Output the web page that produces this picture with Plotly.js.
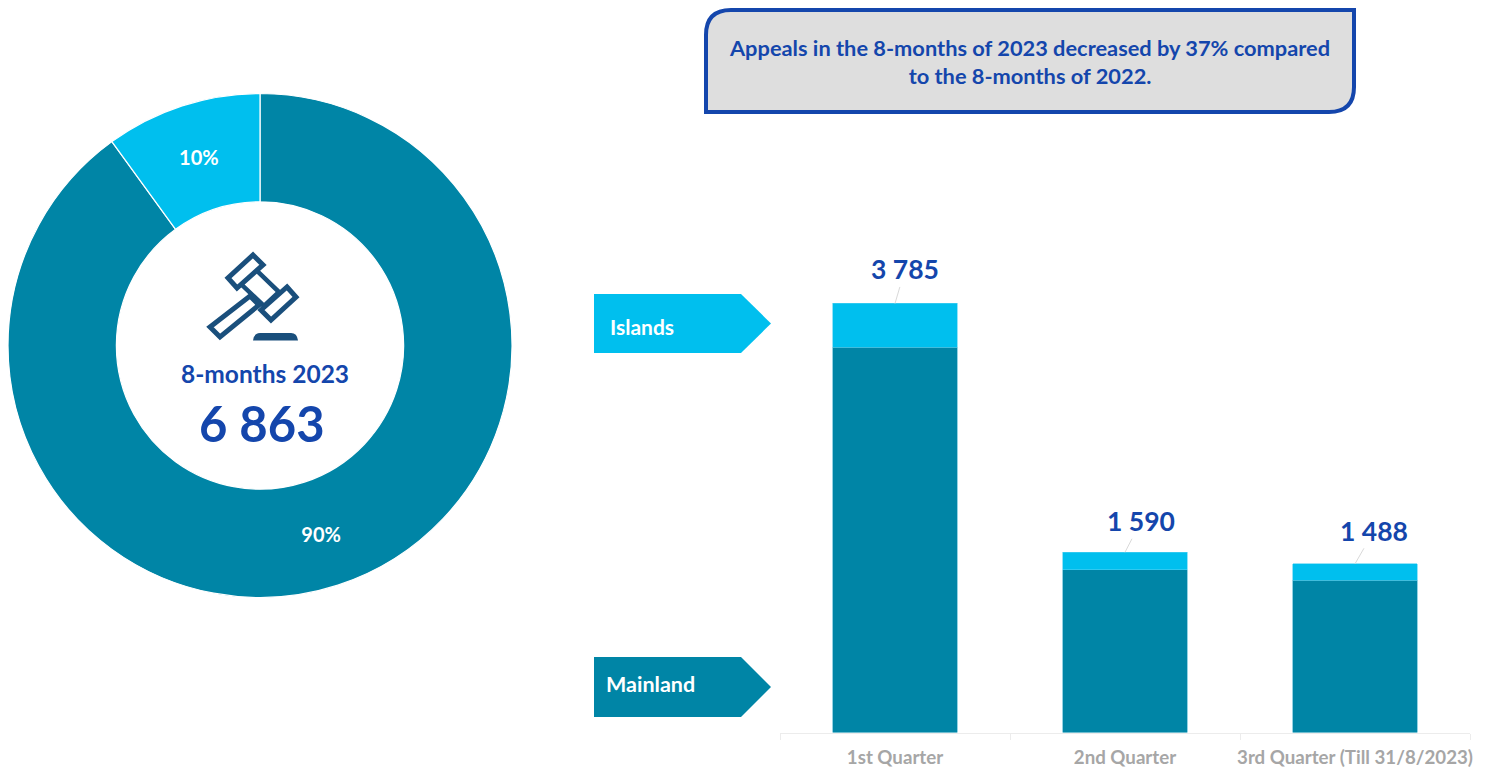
<!DOCTYPE html>
<html>
<head>
<meta charset="utf-8">
<script src="https://cdn.plot.ly/plotly-3.0.1.min.js"></script>
<style>html,body{margin:0;padding:0;background:#fff}#c{width:1491px;height:772px}</style>
</head>
<body>
<div id="c"></div>
<script>
const quarters = ["1st Quarter", "2nd Quarter", "3rd Quarter (Till 31/8/2023)"];
const mainland = [3397, 1438, 1345];
const islands = [388, 152, 143];
const totals = ["3 785", "1 590", "1 488"];
const totalValues = [3785, 1590, 1488];
const regions = ["Mainland", "Islands"];
const regionShares = [90, 10];
const TEAL = "#0085a6", SKY = "#00bfee", NAVY = "#1446ac", GREY = "#a6a6a6", ICON = "#1a4f7c";
const FONT = "Lato, 'Open Sans', sans-serif";
const W = 1491, H = 772;
const fx = x => x / W, fy = y => 1 - y / H;

function path(cmds) {
  return cmds.map(c => {
    if (c === "Z") return "Z";
    const k = c[0], nums = c.slice(1);
    const out = [];
    for (let i = 0; i < nums.length; i += 2) out.push(fx(nums[i]).toFixed(5) + "," + fy(nums[i + 1]).toFixed(5));
    return k + out.join(" ");
  }).join(" ");
}
function shp(cmds, fill, color, width, layer) {
  return {type: "path", xref: "paper", yref: "paper", path: path(cmds), fillcolor: fill,
    line: {color: color, width: width}, layer: layer || "above"};
}
function poly(pts) {
  return pts.map((p, i) => [i ? "L" : "M", p[0], p[1]]).concat(["Z"]);
}
function note(x, y, text, size, color, extra) {
  return Object.assign({xref: "paper", yref: "paper", x: fx(x), y: fy(y), text: text, showarrow: false,
    xanchor: "center", yanchor: "middle", font: {family: FONT, size: size, color: color, weight: 700}}, extra || {});
}
function totalNote(i, ax, ay, size) {
  return {xref: "x", yref: "y", x: quarters[i], y: totalValues[i], text: totals[i], showarrow: true,
    arrowhead: 0, arrowwidth: 1, arrowcolor: "#d9d9d9", ax: ax, ay: ay, standoff: 0, startstandoff: 0,
    font: {family: FONT, size: size, color: NAVY, weight: 700}};
}

const traces = [
  {type: "pie", labels: regions, values: regionShares, sort: false, direction: "clockwise", rotation: 0,
   hole: 0.57, domain: {x: [fx(8), fx(512)], y: [fy(598), fy(93)]},
   marker: {colors: [TEAL, SKY], line: {color: "#ffffff", width: 1.2}},
   textinfo: "percent", texttemplate: "%{percent:.0%}", textposition: "inside", insidetextorientation: "horizontal",
   textfont: {family: FONT, size: 20, color: "#ffffff", weight: 700}, hoverinfo: "skip", showlegend: false},
  {type: "bar", name: "Mainland", x: quarters, y: mainland, width: 0.54,
   marker: {color: TEAL, line: {color: "#4fb4cf", width: 0.6}}, hoverinfo: "skip", showlegend: false},
  {type: "bar", name: "Islands", x: quarters, y: islands, width: 0.54,
   marker: {color: SKY, line: {color: "#4fd0f2", width: 0.6}}, hoverinfo: "skip", showlegend: false}
];

const layout = {
  width: W, height: H, margin: {l: 0, r: 0, t: 0, b: 0}, autosize: false,
  paper_bgcolor: "#fff", plot_bgcolor: "rgba(0,0,0,0)", barmode: "stack", showlegend: false,
  xaxis: {domain: [fx(780), fx(1470)], type: "category", categoryorder: "array", categoryarray: quarters,
    tickson: "boundaries", ticks: "outside", ticklen: 6, tickwidth: 1, tickcolor: "#ececec",
    showline: true, linecolor: "#ececec", linewidth: 1, showgrid: false, zeroline: false, tickangle: 0,
    ticklabelstandoff: 8, tickfont: {family: FONT, size: 18.7, color: GREY, weight: 700}},
  yaxis: {domain: [fy(732.5), fy(279.1)], range: [0, 4000], visible: false, fixedrange: true},
  shapes: [
    shp([["M", 731, 10], ["L", 1354, 10], ["L", 1354, 87], ["Q", 1354, 112, 1329, 112], ["L", 706, 112],
         ["L", 706, 35], ["Q", 706, 10, 731, 10], "Z"], "#dedede", NAVY, 4),
    shp(poly([[594, 294], [741, 294], [771, 323.5], [741, 353], [594, 353]]), SKY, SKY, 0),
    shp(poly([[594, 657], [741, 657], [771, 687], [741, 717], [594, 717]]), TEAL, TEAL, 0),
    // gavel: head body first, caps and handle on top of it
    shp(poly([[256, 270], [279, 292], [264, 306], [241, 284]]), "#ffffff", ICON, 4.5),
    shp(poly([[253, 255], [263, 265], [237, 288], [228, 278]]), "#ffffff", ICON, 5),
    shp(poly([[287, 287], [296, 297], [271, 320], [261, 310]]), "#ffffff", ICON, 5),
    shp(poly([[250, 296], [259, 305], [220, 337], [210, 327]]), "#ffffff", ICON, 5),
    shp([["M", 253, 340.5], ["Q", 254, 333, 260, 333], ["L", 291, 333], ["Q", 297, 333, 298, 340.5], "Z"], ICON, ICON, 0)
  ],
  annotations: [
    note(1029.5, 61.5, "Appeals in the 8-months of 2023 decreased by 37% compared<br>to the 8-months of 2022.", 21.8, NAVY),
    note(641.5, 327, "Islands", 21, "#ffffff"),
    note(650, 683.5, "Mainland", 21.5, "#ffffff"),
    note(265, 374, "8-months 2023", 24.5, NAVY),
    note(262, 423.5, "6 863", 49, NAVY),
    totalNote(0, 10, -34, 26.5),
    totalNote(1, 16, -31, 26.5),
    totalNote(2, 19, -33, 26.5)
  ]
};
Plotly.newPlot("c", traces, layout, {displayModeBar: false, staticPlot: true});
</script>
</body>
</html>
